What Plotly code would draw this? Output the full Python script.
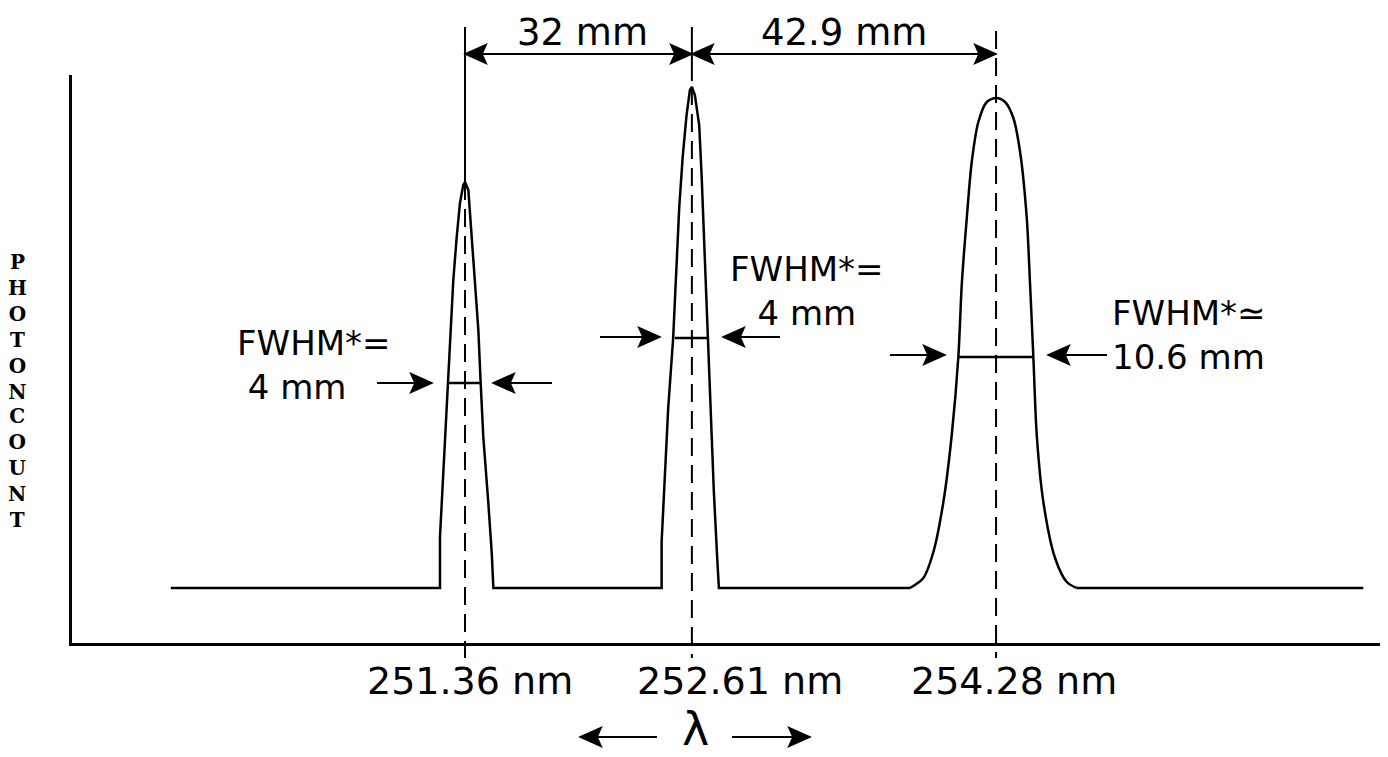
import plotly.graph_objects as go

# ---------------- data ----------------
# x: position along the focal plane in mm (251.36 nm line at 0 mm)
# y: photon count, arbitrary units
line_labels = ["251.36 nm", "252.61 nm", "254.28 nm"]
line_pos_mm = [0.0, 32.0, 74.9]
spacing_labels = ["32 mm", "42.9 mm"]
fwhm_texts = ["FWHM*=<br>\u00a04 mm",
              "FWHM*=<br>4 mm",
              "FWHM*\u2243<br>10.6 mm"]

baseline_x = [-41.5, 126.7]
baseline_count = 55

peak1_x = [-3.53, -3.53, -3.29, -2.82, -2.36, -2.12, -1.65, -1.17, -0.71, -0.24,
           0.0, 0.47, 0.94, 1.41, 1.88, 2.21, 2.58, 3.29, 3.77, 4.0]
peak1_y = [55, 106, 140, 206, 260, 306, 363, 406, 440, 458,
           461, 453, 406, 356, 313, 260, 206, 140, 90, 55]

peak2_x = [27.73, 27.73, 28.19, 28.66, 29.36, 29.74, 30.21, 30.69, 31.25, 31.72,
           32.0, 32.42, 33.03, 33.37, 33.73, 34.21, 34.64, 35.1, 35.57, 35.81]
peak2_y = [55, 101, 168, 235, 305, 368, 435, 485, 528, 553,
           556, 548, 518, 468, 401, 305, 235, 151, 85, 55]

peak3_x = [62.77, 64.65, 66.06, 67.47, 68.65, 69.58, 70.06, 70.77, 71.47, 72.4, 73.59,
           74.9, 76.17, 77.34, 78.29, 79.23, 79.7, 80.16, 80.64, 81.57, 83.22, 84.87, 86.28]
peak3_y = [55, 65, 91, 141, 208, 286, 358, 425, 481, 521, 541,
           545, 541, 525, 491, 425, 358, 286, 208, 141, 85, 61, 55]

peak_top = [461, 556, 545]
fwhm_left = [-2.26, 29.6, 69.58]
fwhm_right = [2.26, 34.2, 80.16]
fwhm_level = [260, 305, 286]

# FWHM pointer arrows: (tail mm, head mm, level)
fwhm_arrows = [(-12.41, -4.65, 260), (12.27, 3.95, 260),
               (19.04, 27.5, 306), (44.43, 36.39, 306),
               (59.94, 67.7, 288), (90.55, 82.23, 288)]

# ---------------- layout constants ----------------
PAGE_MARGIN = 8                 # default <body> margin of the written page
W, H = 1388 - PAGE_MARGIN, 757 - PAGE_MARGIN
ML, MR, MT, MB = 72 - PAGE_MARGIN, 0, 75 - PAGE_MARGIN, 114
X_RANGE = [-55.43, 130.18]
Y_RANGE = [0, 568]
DIM_TOP = 616        # top of the dimension lines (count units)
DIM_ARROW = 589      # level of the dimension arrows
LAMBDA_ARROW = -94   # level of the arrows beside lambda
TICK_END = -15       # centre lines run a little below the axis
HEAD_LEN = 3.0       # arrow head length (mm)
HEAD_HALF = 9.5      # arrow head half width (count units)
NOTCH = 0.8
FONT = "DejaVu Sans"


def py(count):
    return (count - Y_RANGE[0]) / (Y_RANGE[1] - Y_RANGE[0])


shapes = []


def seg(x0, y0, x1, y1, dash="solid", width=2):
    shapes.append(dict(type="line", xref="x", yref="paper",
                       x0=x0, x1=x1, y0=py(y0), y1=py(y1),
                       line=dict(color="black", width=width, dash=dash)))


def head(xt, yt, d):
    hw = HEAD_HALF / (Y_RANGE[1] - Y_RANGE[0])
    y = py(yt)
    path = (f"M{xt},{y} L{xt - d * HEAD_LEN},{y + hw} "
            f"L{xt - d * NOTCH * HEAD_LEN},{y} L{xt - d * HEAD_LEN},{y - hw} Z")
    shapes.append(dict(type="path", xref="x", yref="paper", path=path,
                       fillcolor="black", line=dict(color="black", width=1.5)))


def arrow(tail, tip, level):
    d = 1 if tip > tail else -1
    seg(tail, level, tip - d * NOTCH * HEAD_LEN, level, width=2)
    head(tip, level, d)


fig = go.Figure()

# spectrum: two narrow peaks (straight flanks) and the broad peak (smooth)
ax_ = [baseline_x[0]] + peak1_x + peak2_x + [peak3_x[0]]
ay_ = [baseline_count] + peak1_y + peak2_y + [peak3_y[0]]
fig.add_trace(go.Scatter(x=ax_, y=ay_, mode="lines",
                         line=dict(color="black", width=2.5), hoverinfo="skip"))
fig.add_trace(go.Scatter(x=peak3_x, y=peak3_y, mode="lines",
                         line=dict(color="black", width=2.5, shape="spline", smoothing=0.8),
                         hoverinfo="skip"))
fig.add_trace(go.Scatter(x=[peak3_x[-1], baseline_x[1]], y=[peak3_y[-1], baseline_count],
                         mode="lines", line=dict(color="black", width=2.5), hoverinfo="skip"))

# FWHM bars
fx, fy = [], []
for l, r, v in zip(fwhm_left, fwhm_right, fwhm_level):
    fx += [l, r, None]
    fy += [v, v, None]
fig.add_trace(go.Scatter(x=fx, y=fy, mode="lines",
                         line=dict(color="black", width=2.5), hoverinfo="skip"))

# extension / centre lines
seg(line_pos_mm[0], DIM_TOP, line_pos_mm[0], peak_top[0])
seg(line_pos_mm[1], DIM_TOP, line_pos_mm[1], 562)
dash = "18px,9px"
seg(line_pos_mm[0], peak_top[0], line_pos_mm[0], TICK_END, dash=dash)
seg(line_pos_mm[1], peak_top[1], line_pos_mm[1], TICK_END, dash=dash)
seg(line_pos_mm[2], DIM_TOP - 4, line_pos_mm[2], TICK_END, dash=dash)

# dimension arrows between the lines
for i in range(2):
    a, b = line_pos_mm[i], line_pos_mm[i + 1]
    seg(a + NOTCH * HEAD_LEN, DIM_ARROW, b - NOTCH * HEAD_LEN, DIM_ARROW)
    head(a, DIM_ARROW, -1)
    head(b, DIM_ARROW, 1)

# FWHM pointer arrows
for tail, tip, lev in fwhm_arrows:
    arrow(tail, tip, lev)

# arrows beside lambda
arrow(27.08, 16.22, LAMBDA_ARROW)
arrow(37.66, 48.66, LAMBDA_ARROW)

ann = []
# spacing labels
for i in range(2):
    a, b = line_pos_mm[i], line_pos_mm[i + 1]
    ann.append(dict(x=(a + b) / 2, y=py(610), xref="x", yref="paper",
                    text=spacing_labels[i], showarrow=False,
                    font=dict(family=FONT, size=37, color="black"),
                    xanchor="center", yanchor="middle", xshift=4 if i == 0 else 0))

# FWHM labels (left edge x in mm, block centre in counts)
fwhm_pos = [(-32.44, 278), (37.09, 352), (90.97, 308)]
for i in range(3):
    ann.append(dict(x=fwhm_pos[i][0], y=fwhm_pos[i][1], xref="x", yref="y",
                    text=fwhm_texts[i], showarrow=False, xanchor="left", yanchor="middle",
                    align="center" if i == 1 else "left",
                    font=dict(family=FONT, size=34, color="black")))

# wavelength labels under the axis
label_shift = [5, 48, 18]
for i in range(3):
    ann.append(dict(x=line_pos_mm[i], y=py(-38), xref="x", yref="paper",
                    text=line_labels[i], showarrow=False, xanchor="center", yanchor="middle",
                    xshift=label_shift[i],
                    font=dict(family=FONT, size=38, color="black")))

# lambda
ann.append(dict(x=line_pos_mm[1], y=py(-86), xref="x", yref="paper", text="λ",
                showarrow=False, xanchor="center", yanchor="middle", xshift=4,
                font=dict(family=FONT, size=46, color="black")))

# stacked y-axis title
for word, centre in (("PHOTON", 327), ("COUNT", 468)):
    ann.append(dict(x=(17 - 72) / (W - ML - MR), y=py(643 - centre), xref="paper", yref="paper",
                    text="<br>".join("<b>" + c + "</b>" for c in word), showarrow=False,
                    xanchor="center", yanchor="middle", align="center",
                    font=dict(family="DejaVu Serif", size=20, color="black")))

fig.update_layout(
    width=W, height=H, margin=dict(l=ML, r=MR, t=MT, b=MB),
    paper_bgcolor="white", plot_bgcolor="white", showlegend=False,
    annotations=ann, shapes=shapes,
    xaxis=dict(range=X_RANGE, showgrid=False, zeroline=False, showline=True,
               linecolor="black", linewidth=3, ticks="", tickmode="array", tickvals=[],
               showticklabels=False, fixedrange=True),
    yaxis=dict(range=Y_RANGE, showgrid=False, zeroline=False, showline=True,
               linecolor="black", linewidth=2.5, ticks="", tickmode="array", tickvals=[],
               showticklabels=False, fixedrange=True),
)

fig.write_html("out.html")
